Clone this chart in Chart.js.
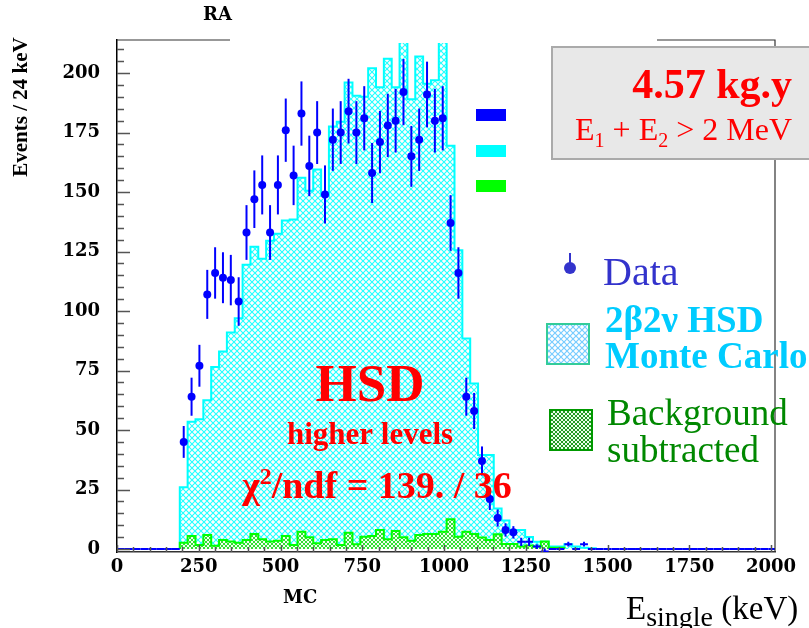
<!DOCTYPE html>
<html>
<head>
<meta charset="utf-8">
<script src="https://cdn.jsdelivr.net/npm/chart.js@4.4.0/dist/chart.umd.min.js"></script>
<style>
  html, body { margin: 0; padding: 0; background: #fff; }
</style>
</head>
<body>
<canvas id="spectrumChart" width="809" height="628"></canvas>
<script>
// Histogram binning (keV)
const binWidth = 24;
const nBins = 84;
const firstBin = 8;   // bins before this are empty (0-192 keV)

// Data counts per bin, starting at bin 8 (192-216 keV)
const dataCounts = [45, 64, 77, 107, 116, 114, 113, 104, 133, 147,
                    153, 133, 153, 176, 157, 183, 161, 175, 149, 172,
                    175, 184, 175, 181, 158, 171, 178, 180, 192, 165,
                    172, 191, 180, 181, 137, 116, 64, 58, 37, 21,
                    13, 8, 7, 3, 3, 1, -1, 0, 0, 2, 0, 2, 0];
const dataErrors = [6.7, 8.0, 8.8, 10.3, 10.8, 10.7, 10.6, 10.2, 11.5, 12.1,
                    12.4, 11.5, 12.4, 13.3, 12.5, 13.5, 12.7, 13.2, 12.2, 13.1,
                    13.2, 13.6, 13.2, 13.5, 12.6, 13.1, 13.3, 13.4, 13.9, 12.8,
                    13.1, 13.8, 13.4, 13.5, 11.7, 10.8, 8.0, 7.6, 6.1, 4.6,
                    3.6, 2.8, 2.6, 1.7, 1.7, 1.0, 1.2, 0, 0, 1.0, 0, 1.0, 0];

// 2b2v HSD Monte Carlo per bin, starting at bin 8
const mcCounts = [26, 53.5, 54.5, 62.5, 76.5, 83, 91, 97, 119.5, 127,
                  122, 129.5, 132.5, 138, 138.5, 156, 150.5, 159.5, 148.5, 177.5,
                  179.5, 196, 190.5, 190, 202, 194, 206, 194, 220, 189,
                  207, 195.5, 197, 220, 169.5, 125.5, 88.5, 69.5, 39.5, 39.5,
                  17, 12, 8, 8, 5, 3, 3, 1, 1, 2, 1, 0.5, 0.3];

// Subtracted background per bin, starting at bin 8
const bkgCounts = [2.6, 5.5, 1.7, 5.9, 1.4, 3.8, 3.1, 2.6, 3.8, 6.3,
                   4.1, 3.1, 3.5, 5.5, 1.7, 7.3, 4.9, 2.4, 3.8, 4.1,
                   1.7, 6.8, 2.0, 5.2, 5.5, 8.0, 4.1, 7.6, 4.9, 3.5,
                   5.9, 6.3, 6.3, 7.3, 12.5, 5.2, 7.3, 6.3, 4.8, 3.8,
                   6.2, 2.1, 2.1, 1.0, 1.5, 1.0, 3.1, 0.5, 0.5];

const yTickValues = [0, 25, 50, 75, 100, 125, 150, 175, 200];
const xTickValues = [0, 250, 500, 750, 1000, 1250, 1500, 1750, 2000];

const tickFont = { family: 'DejaVu Serif', size: 18, weight: 'bold' };
const serif = '"Liberation Serif", "Times New Roman", serif';

// full-length arrays, empty bins are zero
const allData = [];
const allErr = [];
for (let k = 0; k < nBins; k++) {
  const i = k - firstBin;
  const inside = i >= 0 && i < dataCounts.length;
  allData.push(inside ? dataCounts[i] : 0);
  allErr.push(inside ? dataErrors[i] : 0);
}

// points at bin edges, drawn as step lines
function stepPoints(counts) {
  const pts = [{ x: firstBin * binWidth, y: 0 }];
  counts.forEach((c, i) => pts.push({ x: (firstBin + i) * binWidth, y: c }));
  const end = (firstBin + counts.length) * binWidth;
  pts.push({ x: end, y: counts[counts.length - 1] });
  pts.push({ x: end, y: 0 });
  return pts;
}

function makeHatch(color, bg, size, width) {
  const c = document.createElement('canvas');
  c.width = size;
  c.height = size;
  const g = c.getContext('2d');
  g.fillStyle = bg;
  g.fillRect(0, 0, size, size);
  g.strokeStyle = color;
  g.lineWidth = width;
  g.beginPath();
  g.moveTo(0, 0); g.lineTo(size, size);
  g.moveTo(size, 0); g.lineTo(0, size);
  g.stroke();
  return g.createPattern(c, 'repeat');
}

const cyanHatch = makeHatch('#22ffff', '#ffffff', 6, 1.1);
const greenHatch = makeHatch('#33dd33', '#eeffee', 4, 1);
const cyanHatchLegend = makeHatch('#77ccff', '#ffffff', 6, 1.2);
const greenHatchLegend = makeHatch('#229922', '#e8ffe8', 4, 1);

// marker points (small bins only get a cross)
const markerPoints = [];
allData.forEach((v, k) => {
  if (v >= 5) markerPoints.push({ x: (k + 0.5) * binWidth, y: v });
});

// Error bars for the data histogram
const errorBars = {
  id: 'errorBars',
  afterDatasetsDraw(chart) {
    const { ctx, chartArea: a, scales: { x, y } } = chart;
    ctx.save();
    ctx.beginPath();
    ctx.rect(a.left, a.top, a.right - a.left, a.bottom - a.top);
    ctx.clip();
    ctx.strokeStyle = '#0000ff';
    ctx.lineWidth = 2;
    for (let k = 0; k < nBins; k++) {
      const v = allData[k];
      const e = allErr[k];
      const xc = x.getPixelForValue((k + 0.5) * binWidth);
      const yp = y.getPixelForValue(v);
      ctx.beginPath();
      if (v < 5) {
        ctx.moveTo(x.getPixelForValue(k * binWidth), yp);
        ctx.lineTo(x.getPixelForValue((k + 1) * binWidth), yp);
      }
      if (e > 0) {
        ctx.moveTo(xc, y.getPixelForValue(v - e));
        ctx.lineTo(xc, y.getPixelForValue(v + e));
      }
      ctx.stroke();
    }
    ctx.restore();
  }
};

// frame and inward ticks like the original plot
const frameTicks = {
  id: 'frameTicks',
  afterDatasetsDraw(chart) {
    const { ctx, chartArea: a, scales: { x, y } } = chart;
    ctx.save();
    ctx.strokeStyle = '#555';
    ctx.lineWidth = 1.5;
    ctx.beginPath();
    for (let v = 0; v <= 210; v += 5) {
      const py = Math.round(y.getPixelForValue(v)) + 0.5;
      const len = v % 25 === 0 ? 13 : 7;
      ctx.moveTo(a.left, py);
      ctx.lineTo(a.left + len, py);
    }
    for (let v = 0; v <= 2000; v += 50) {
      const px = Math.round(x.getPixelForValue(v)) + 0.5;
      const len = v % 250 === 0 ? 7 : 5;
      ctx.moveTo(px, a.bottom);
      ctx.lineTo(px, a.bottom - len);
    }
    ctx.stroke();
    ctx.strokeStyle = '#333';
    ctx.lineWidth = 1.2;
    ctx.beginPath();
    ctx.moveTo(a.left, a.top);
    ctx.lineTo(a.right, a.top);
    ctx.lineTo(a.right, a.bottom);
    ctx.stroke();
    ctx.restore();
  }
};

function drawRuns(ctx, runs, x, y, align) {
  let total = 0;
  runs.forEach(r => { ctx.font = r.font; total += ctx.measureText(r.text).width; });
  let cx = align === 'center' ? x - total / 2 : align === 'right' ? x - total : x;
  ctx.textAlign = 'left';
  ctx.textBaseline = 'alphabetic';
  runs.forEach(r => {
    ctx.font = r.font;
    ctx.fillText(r.text, cx, y + (r.dy || 0));
    cx += ctx.measureText(r.text).width;
  });
}

// texts, boxes and legend laid over the plot
const overlays = {
  id: 'overlays',
  afterDraw(chart) {
    const ctx = chart.ctx;
    ctx.save();

    // title box hiding the frame top
    ctx.fillStyle = '#fff';
    ctx.fillRect(230, 0, 427, 43);
    ctx.fillStyle = '#000';
    ctx.font = 'bold 18px "DejaVu Serif"';
    ctx.fillText('RA', 203, 20);
    ctx.fillText('MC', 283, 603);

    // y axis title
    ctx.save();
    ctx.translate(27, 107);
    ctx.rotate(-Math.PI / 2);
    ctx.textAlign = 'center';
    ctx.font = 'bold 21px ' + serif;
    ctx.fillText('Events / 24 keV', 0, 0);
    ctx.restore();

    // x axis title
    ctx.fillStyle = '#000';
    drawRuns(ctx, [
      { text: 'E', font: '33px ' + serif },
      { text: 'single', font: '28px ' + serif, dy: 7 },
      { text: ' (keV)', font: '33px ' + serif }
    ], 626, 619, 'left');

    // exposure box
    ctx.fillStyle = '#e8e8e8';
    ctx.fillRect(552, 47, 262, 112);
    ctx.strokeStyle = '#aaaaaa';
    ctx.lineWidth = 2;
    ctx.strokeRect(552, 47, 262, 112);
    ctx.fillStyle = '#ff0000';
    drawRuns(ctx, [{ text: '4.57 kg.y', font: 'bold 42px ' + serif }], 792, 98, 'right');
    drawRuns(ctx, [
      { text: 'E', font: '32px ' + serif },
      { text: '1', font: '20px ' + serif, dy: 7 },
      { text: ' + E', font: '32px ' + serif },
      { text: '2', font: '20px ' + serif, dy: 7 },
      { text: ' > 2 MeV', font: '32px ' + serif }
    ], 792, 140, 'right');

    // old legend colour keys
    ctx.fillStyle = '#0000ff';
    ctx.fillRect(476, 109, 30, 12);
    ctx.fillStyle = '#00ffff';
    ctx.fillRect(476, 145, 30, 12);
    ctx.fillStyle = '#00ff00';
    ctx.fillRect(476, 180, 30, 12);

    // fit annotations
    ctx.fillStyle = '#ff0000';
    drawRuns(ctx, [{ text: 'HSD', font: 'bold 53px ' + serif }], 370, 401, 'center');
    drawRuns(ctx, [{ text: 'higher levels', font: 'bold 31px ' + serif }], 370, 444, 'center');
    drawRuns(ctx, [
      { text: 'χ', font: 'bold 38px ' + serif },
      { text: '2', font: 'bold 24px ' + serif, dy: -14 },
      { text: '/ndf = 139. / 36', font: 'bold 38px ' + serif }
    ], 377, 498, 'center');

    // legend: data
    ctx.strokeStyle = '#3333cc';
    ctx.fillStyle = '#3333cc';
    ctx.lineWidth = 2;
    ctx.beginPath();
    ctx.moveTo(570, 253);
    ctx.lineTo(570, 268);
    ctx.stroke();
    ctx.beginPath();
    ctx.arc(570, 268, 6, 0, Math.PI * 2);
    ctx.fill();
    drawRuns(ctx, [{ text: 'Data', font: '40px ' + serif }], 603, 285, 'left');

    // legend: MC
    ctx.fillStyle = cyanHatchLegend;
    ctx.fillRect(547, 324, 42, 40);
    ctx.strokeStyle = '#33cc99';
    ctx.strokeRect(547, 324, 42, 40);
    ctx.fillStyle = '#00ccff';
    drawRuns(ctx, [{ text: '2β2ν HSD', font: 'bold 37px ' + serif }], 605, 332, 'left');
    drawRuns(ctx, [{ text: 'Monte Carlo', font: 'bold 37px ' + serif }], 605, 368, 'left');

    // legend: background
    ctx.fillStyle = greenHatchLegend;
    ctx.fillRect(550, 410, 42, 40);
    ctx.strokeStyle = '#009900';
    ctx.strokeRect(550, 410, 42, 40);
    ctx.fillStyle = '#008800';
    drawRuns(ctx, [{ text: 'Background', font: '37px ' + serif }], 607, 425, 'left');
    drawRuns(ctx, [{ text: 'subtracted', font: '37px ' + serif }], 607, 462, 'left');

    ctx.restore();
  }
};

const ctx = document.getElementById('spectrumChart').getContext('2d');
const chart = new Chart(ctx, {
  type: 'line',
  data: {
    datasets: [
      {
        label: 'Data',
        data: markerPoints,
        showLine: false,
        pointRadius: 4,
        pointBackgroundColor: '#0000ff',
        pointBorderColor: '#0000ff',
        pointBorderWidth: 0
      },
      {
        label: 'Background subtracted',
        data: stepPoints(bkgCounts),
        stepped: 'before',
        borderColor: '#00ff00',
        borderWidth: 2,
        backgroundColor: greenHatch,
        fill: 'origin',
        pointRadius: 0
      },
      {
        label: '2β2ν HSD Monte Carlo',
        data: stepPoints(mcCounts),
        stepped: 'before',
        borderColor: '#00ffff',
        borderWidth: 2,
        backgroundColor: cyanHatch,
        fill: 'origin',
        pointRadius: 0
      }
    ]
  },
  options: {
    responsive: false,
    animation: false,
    devicePixelRatio: 1,
    layout: { padding: { top: 40, right: 34, left: 0, bottom: 0 } },
    plugins: {
      legend: { display: false },
      tooltip: { enabled: false }
    },
    scales: {
      x: {
        type: 'linear',
        min: 0,
        max: 2012,
        afterBuildTicks: s => { s.ticks = xTickValues.map(v => ({ value: v })); },
        afterFit: s => { s.height = 76; },
        grid: { display: false, drawTicks: false },
        border: { display: true, color: '#333', width: 1.5 },
        ticks: {
          font: tickFont,
          color: '#000',
          padding: 5,
          maxRotation: 0,
          autoSkip: false,
          callback: v => String(v)
        }
      },
      y: {
        type: 'linear',
        min: -1.26,
        max: 213.9,
        afterBuildTicks: s => { s.ticks = yTickValues.map(v => ({ value: v })); },
        afterFit: s => { s.width = 117; },
        grid: { display: false, drawTicks: false },
        border: { display: true, color: '#000', width: 1.5 },
        ticks: {
          font: tickFont,
          color: '#000',
          padding: 17,
          autoSkip: false,
          callback: v => String(v)
        }
      }
    }
  },
  plugins: [errorBars, frameTicks, overlays]
});
</script>
</body>
</html>
